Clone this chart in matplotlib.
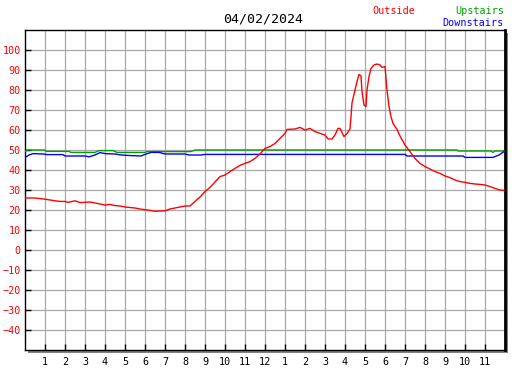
import matplotlib
matplotlib.use("Agg")
import matplotlib.pyplot as plt
from matplotlib.patches import Rectangle

W, H = 527, 370
DPI = 100

# Outside temperature (hour of day, value)
out_hours = [0.0, 0.5, 1.0, 1.5, 1.75, 2.0, 2.15, 2.5, 2.75, 3.25, 3.75, 4.0, 4.25, 4.5,
             4.75, 5.0, 5.5, 5.75, 6.25, 6.5, 7.0, 7.25, 7.5, 7.75, 8.0, 8.25, 8.5, 8.75,
             9.0, 9.25, 9.5, 9.75, 10.0, 10.25, 10.5, 10.75, 11.0, 11.25, 11.5, 11.75,
             12.0, 12.25, 12.5, 12.75, 13.0, 13.1, 13.5, 13.75, 14.0, 14.25, 14.5, 14.75,
             15.0, 15.15, 15.35, 15.5, 15.65, 15.75, 15.95, 16.1, 16.25, 16.3, 16.35, 16.5,
             16.6, 16.7, 16.8, 16.85, 16.95, 17.05, 17.1, 17.2, 17.3, 17.45, 17.6, 17.75,
             17.85, 18.0, 18.1, 18.2, 18.3, 18.4, 18.6, 18.75, 19.0, 19.25, 19.5, 19.75,
             20.0, 20.25, 20.5, 20.75, 21.0, 21.25, 21.5, 21.75, 22.0, 22.25, 22.5, 22.75,
             23.0, 23.25, 23.5, 23.75, 23.95]
out_temp = [26.0, 26.0, 25.4, 24.6, 24.3, 24.3, 23.8, 24.6, 23.7, 24.0, 23.0, 22.5, 22.8, 22.2,
            22.0, 21.5, 21.0, 20.5, 19.8, 19.4, 19.6, 20.5, 21.0, 21.5, 22.0, 22.0, 24.3, 26.5,
            29.2, 31.3, 34.0, 36.7, 37.5, 39.2, 40.8, 42.3, 43.3, 44.2, 45.8, 48.0,
            50.8, 51.7, 53.3, 55.8, 58.3, 60.3, 60.5, 61.3, 60.0, 60.8, 59.2, 58.3,
            57.5, 55.5, 55.5, 57.5, 60.8, 60.8, 56.7, 58.3, 60.5, 66.7, 73.5, 80.0,
            84.2, 87.8, 87.0, 79.2, 72.5, 71.7, 80.0, 86.7, 90.8, 92.5, 93.0, 92.5,
            91.3, 91.7, 80.0, 71.7, 66.7, 63.3, 60.3, 57.0, 52.5, 49.2, 45.8, 43.3,
            41.7, 40.5, 39.2, 38.3, 37.0, 36.2, 35.0, 34.2, 33.8, 33.3, 33.0, 32.8,
            32.5, 31.7, 30.8, 30.0, 29.8]

# Upstairs
up_hours = [0.0, 0.1, 1.0, 1.05, 2.2, 2.3, 3.5, 3.7, 4.4, 4.6, 6.0, 6.1, 8.3, 8.5,
            21.6, 21.65, 23.3, 23.4, 23.5, 23.95]
up_temp = [49.2, 50.0, 50.0, 49.3, 49.3, 48.8, 48.8, 49.7, 49.7, 48.8, 48.8, 49.2, 49.2, 50.0,
           50.0, 49.5, 49.5, 48.8, 49.5, 49.5]

# Downstairs
down_hours = [0.0, 0.2, 0.4, 0.9, 1.1, 1.9, 2.0, 3.0, 3.2, 3.5, 3.75, 4.0, 4.5, 4.8, 5.3,
              5.8, 6.0, 6.3, 6.7, 7.0, 8.0, 8.2, 8.8, 9.0, 19.0, 19.1, 21.9, 22.0, 23.4,
              23.7, 23.95]
down_temp = [46.2, 47.5, 48.2, 48.0, 47.7, 47.7, 47.0, 47.0, 46.6, 47.5, 48.7, 48.2, 48.0, 47.5,
             47.2, 47.0, 47.8, 48.8, 48.8, 48.0, 48.0, 47.5, 47.5, 47.8, 47.8, 47.0, 47.0, 46.3,
             46.3, 47.5, 49.2]

x_ticks = list(range(1, 24))
x_labels = [str(h if h <= 12 else h - 12) for h in x_ticks]
y_ticks = list(range(-40, 101, 10))

fig = plt.figure(figsize=(W / DPI, H / DPI), dpi=DPI)
fig.patch.set_facecolor("white")
left, bottom = 25 / W, 20 / H
width, height = 480 / W, 320 / H

# drop shadow behind the plot frame
fig.patches.append(Rectangle((left + 3 / W, bottom - 3 / H), width, height,
                             transform=fig.transFigure, facecolor="#808080",
                             edgecolor="none", zorder=-5))

ax = fig.add_axes([left, bottom, width, height])
ax.set_zorder(2)
ax.set_facecolor("white")
ax.set_xlim(0, 24)
ax.set_ylim(-50, 110)

ax.plot(up_hours, up_temp, color="#00a000", lw=1.0, zorder=3)
ax.plot(down_hours, down_temp, color="#0000ff", lw=1.0, zorder=3)
ax.plot(out_hours, out_temp, color="#ff0000", lw=1.0, zorder=4)

ax.set_xticks(x_ticks)
ax.set_xticklabels(x_labels)
ax.set_yticks(y_ticks)
ax.grid(True, color="#a8a8a8", lw=0.9)
ax.set_axisbelow(True)

mono = "DejaVu Sans Mono"
ax.tick_params(axis="both", direction="in", length=4, width=1, color="black")
ax.tick_params(axis="y", labelcolor="#ff0000", pad=3)
ax.tick_params(axis="x", pad=5)
for lab in ax.get_xticklabels() + ax.get_yticklabels():
    lab.set_fontfamily(mono)
    lab.set_fontsize(7.3)

for side in ["left", "top", "bottom"]:
    ax.spines[side].set_color("black")
    ax.spines[side].set_linewidth(1.0)
ax.spines["right"].set_color("black")
ax.spines["right"].set_linewidth(2.0)

fig.text(263 / W, 1 - 19 / H, "04/02/2024", ha="center", va="center",
         family=mono, fontsize=9.5, color="black")
fig.text(372 / W, 1 - 11 / H, "Outside", ha="left", va="center",
         family=mono, fontsize=7.3, color="#ff0000")
fig.text(504 / W, 1 - 11 / H, "Upstairs", ha="right", va="center",
         family=mono, fontsize=7.3, color="#00a000")
fig.text(504 / W, 1 - 23 / H, "Downstairs", ha="right", va="center",
         family=mono, fontsize=7.3, color="#0000ff")

fig.savefig("out.png", dpi=DPI, facecolor="white")
